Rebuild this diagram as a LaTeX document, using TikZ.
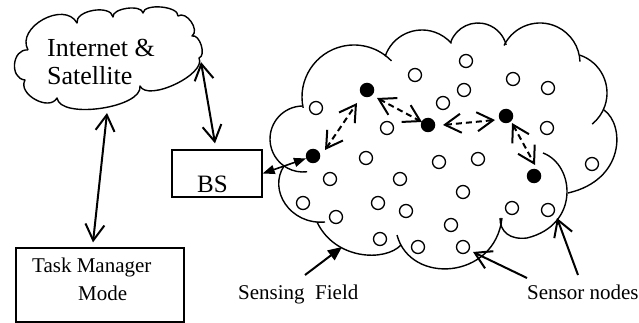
\documentclass[tikz,border=0pt]{standalone}
\usepackage{fontspec}
\setmainfont{Liberation Serif}
\usetikzlibrary{arrows.meta,calc}

\begin{document}
\begin{tikzpicture}[x=1pt,y=-1pt,
  outline/.style={line width=1.4pt,line join=round},
  sensor/.style={circle,draw,line width=1.3pt,minimum size=13pt,inner sep=0pt},
  active/.style={circle,fill=black,minimum size=14.5pt,inner sep=0pt},
  boxnode/.style={draw,line width=1.3pt,inner sep=0pt},
  txt/.style={anchor=base west,inner sep=0pt,font=\fontsize{21}{24}\selectfont},
  bigtxt/.style={txt,font=\fontsize{26}{28}\selectfont},
  link/.style={line width=2pt,
    {Straight Barb[length=16pt,width=19pt]}-{Straight Barb[length=16pt,width=19pt]}},
  hop/.style={link,dash pattern=on 6pt off 4pt},
  pointer/.style={line width=2pt,-{Straight Barb[length=16pt,width=19pt]}},
  fieldptr/.style={line width=2pt,-{Triangle[length=14pt,width=12pt]}},
  bslink/.style={line width=1.6pt,
    {Triangle[length=12pt,width=9pt]}-{Triangle[length=12pt,width=9pt]}},
]
\fill[white] (0,0) rectangle (639,323);
\useasboundingbox (0,0) rectangle (639,323);

% ---- Internet & Satellite cloud ----
\coordinate (s1) at (28,50);
\coordinate (s2) at (77,23);
\coordinate (s3) at (113,17);
\coordinate (s4) at (143,13);
\coordinate (s5) at (178,16);
\coordinate (s6) at (192,36);
\coordinate (s7) at (199,58);
\coordinate (s8) at (140,86);
\coordinate (s9) at (57,98);
\coordinate (s10) at (25,80);
\draw[outline]
  (s1) .. controls ($(s1)!26pt!90:(s2)$) and ($(s2)!26pt!-90:(s1)$) .. (s2)
       .. controls ($(s2)!13pt!90:(s3)$) and ($(s3)!13pt!-90:(s2)$) .. (s3)
       .. controls ($(s3)!9pt!90:(s4)$) and ($(s4)!9pt!-90:(s3)$) .. (s4)
       .. controls ($(s4)!10pt!90:(s5)$) and ($(s5)!10pt!-90:(s4)$) .. (s5)
       .. controls ($(s5)!10pt!90:(s6)$) and ($(s6)!10pt!-90:(s5)$) .. (s6)
       .. controls ($(s6)!8pt!90:(s7)$) and ($(s7)!8pt!-90:(s6)$) .. (s7)
       .. controls ($(s7)!18pt!90:(s8)$) and ($(s8)!18pt!-90:(s7)$) .. (s8)
       .. controls ($(s8)!22pt!90:(s9)$) and ($(s9)!22pt!-90:(s8)$) .. (s9)
       .. controls ($(s9)!16pt!90:(s10)$) and ($(s10)!16pt!-90:(s9)$) .. (s10)
       .. controls ($(s10)!16pt!90:(s1)$) and ($(s1)!16pt!-90:(s10)$) .. (s1);
\node[bigtxt] (inet) at (47,57) {Internet \&};
\node[bigtxt] (sat) at (47,85) {Satellite};

% ---- sensing field cloud ----
\draw[outline] (303,139) ++(268:33) arc[start angle=268,end angle=83,radius=33];
\draw[outline] (354,97) ++(168:52) arc[start angle=168,end angle=316,radius=52];
\draw[outline] (422,69) ++(199:39) arc[start angle=199,end angle=319,radius=39];
\draw[outline] (478,52) ++(200:29) arc[start angle=200,end angle=346,radius=29];
\draw[outline] (540,63) ++(206:40) arc[start angle=206,end angle=358,radius=40];
\draw[outline] (567,93) ++(289:40) arc[start angle=289,end angle=411,radius=40];
\draw[outline] (604,110) .. controls (625,125) and (625,180) .. (568,193);
\draw[outline] (543,153) .. controls (575,165) and (580,225) .. (527,238)
                         .. controls (510,240) and (500,232) .. (500,218);
\draw[outline] (502,218) .. controls (495,280) and (410,285) .. (397,235);
\draw[outline] (317,222) .. controls (335,260) and (385,262) .. (401,245);
\draw[outline] (325,222) .. controls (290,225) and (268,190) .. (284,166);

% ---- sensor nodes ----
\foreach \name/\px/\py in {
  n1/466/61, n2/415/75, n3/513/79, n4/548/88, n5/464/90, n6/316/108,
  n7/443/103, n8/387/128, n9/547/128, n10/366/158, n11/439/162, n12/478/159,
  n13/592/164, n14/330/179, n15/400/179, n16/463/192, n17/303/203, n18/378/203,
  n19/406/211, n20/336/217, n21/512/208, n22/548/210, n23/451/225, n24/380/239,
  n25/418/247, n26/463/247}
  \node[sensor] (\name) at (\px,\py) {};

% ---- active (relaying) nodes ----
\node[active] (f1) at (367,90) {};
\node[active] (f2) at (428,125) {};
\node[active] (f3) at (506,116) {};
\node[active] (f4) at (534,176) {};
\node[active] (f5) at (313,156) {};

% ---- boxes ----
\node[boxnode,minimum width=90pt,minimum height=47pt] (bs) at (217,173.5) {};
\node[txt,font=\fontsize{25}{28}\selectfont] (bstext) at (197,193) {BS};
\node[boxnode,minimum width=168pt,minimum height=74pt] (tm) at (100,285) {};
\node[txt] (tm1) at (32,272) {Task Manager};
\node[txt] (tm2) at (78,300) {Mode};

% ---- captions ----
\node[txt] (sf) at (238,299) {Sensing\ \ Field};
\node[txt] (sn) at (527,299) {Sensor nodes};

% ---- links ----
\coordinate (inetE) at (201,62);
\coordinate (inetS) at (107,113);
\draw[link] (inetE) -- ($(bs.north)+(-2,-6)$);
\draw[link] (inetS) -- ($(tm.north)+(-7,-5)$);
\draw[bslink] (bs.east) -- (f5);

\draw[hop] ($(f5)+(12,-6)$) -- ($(f1)+(-10,13)$);
\draw[hop] ($(f1)+(10,8)$) -- ($(f2)+(-6,-3)$);
\draw[hop] ($(f2)+(15,0)$) -- ($(f3)+(-11,4)$);
\draw[hop] ($(f3)+(6,7)$) -- ($(f4)+(1,-11)$);

% ---- caption pointers ----
\coordinate (sfTail) at (305,275);
\coordinate (sfTip) at (342,247);
\draw[fieldptr] (sfTail) -- (sfTip);
\coordinate (snTail1) at (527,278);
\coordinate (snTail2) at (578,275);
\draw[pointer] (snTail1) -- ($(n26)+(10,5)$);
\draw[pointer] (snTail2) -- ($(n22)+(9,8)$);
\end{tikzpicture}
\end{document}
